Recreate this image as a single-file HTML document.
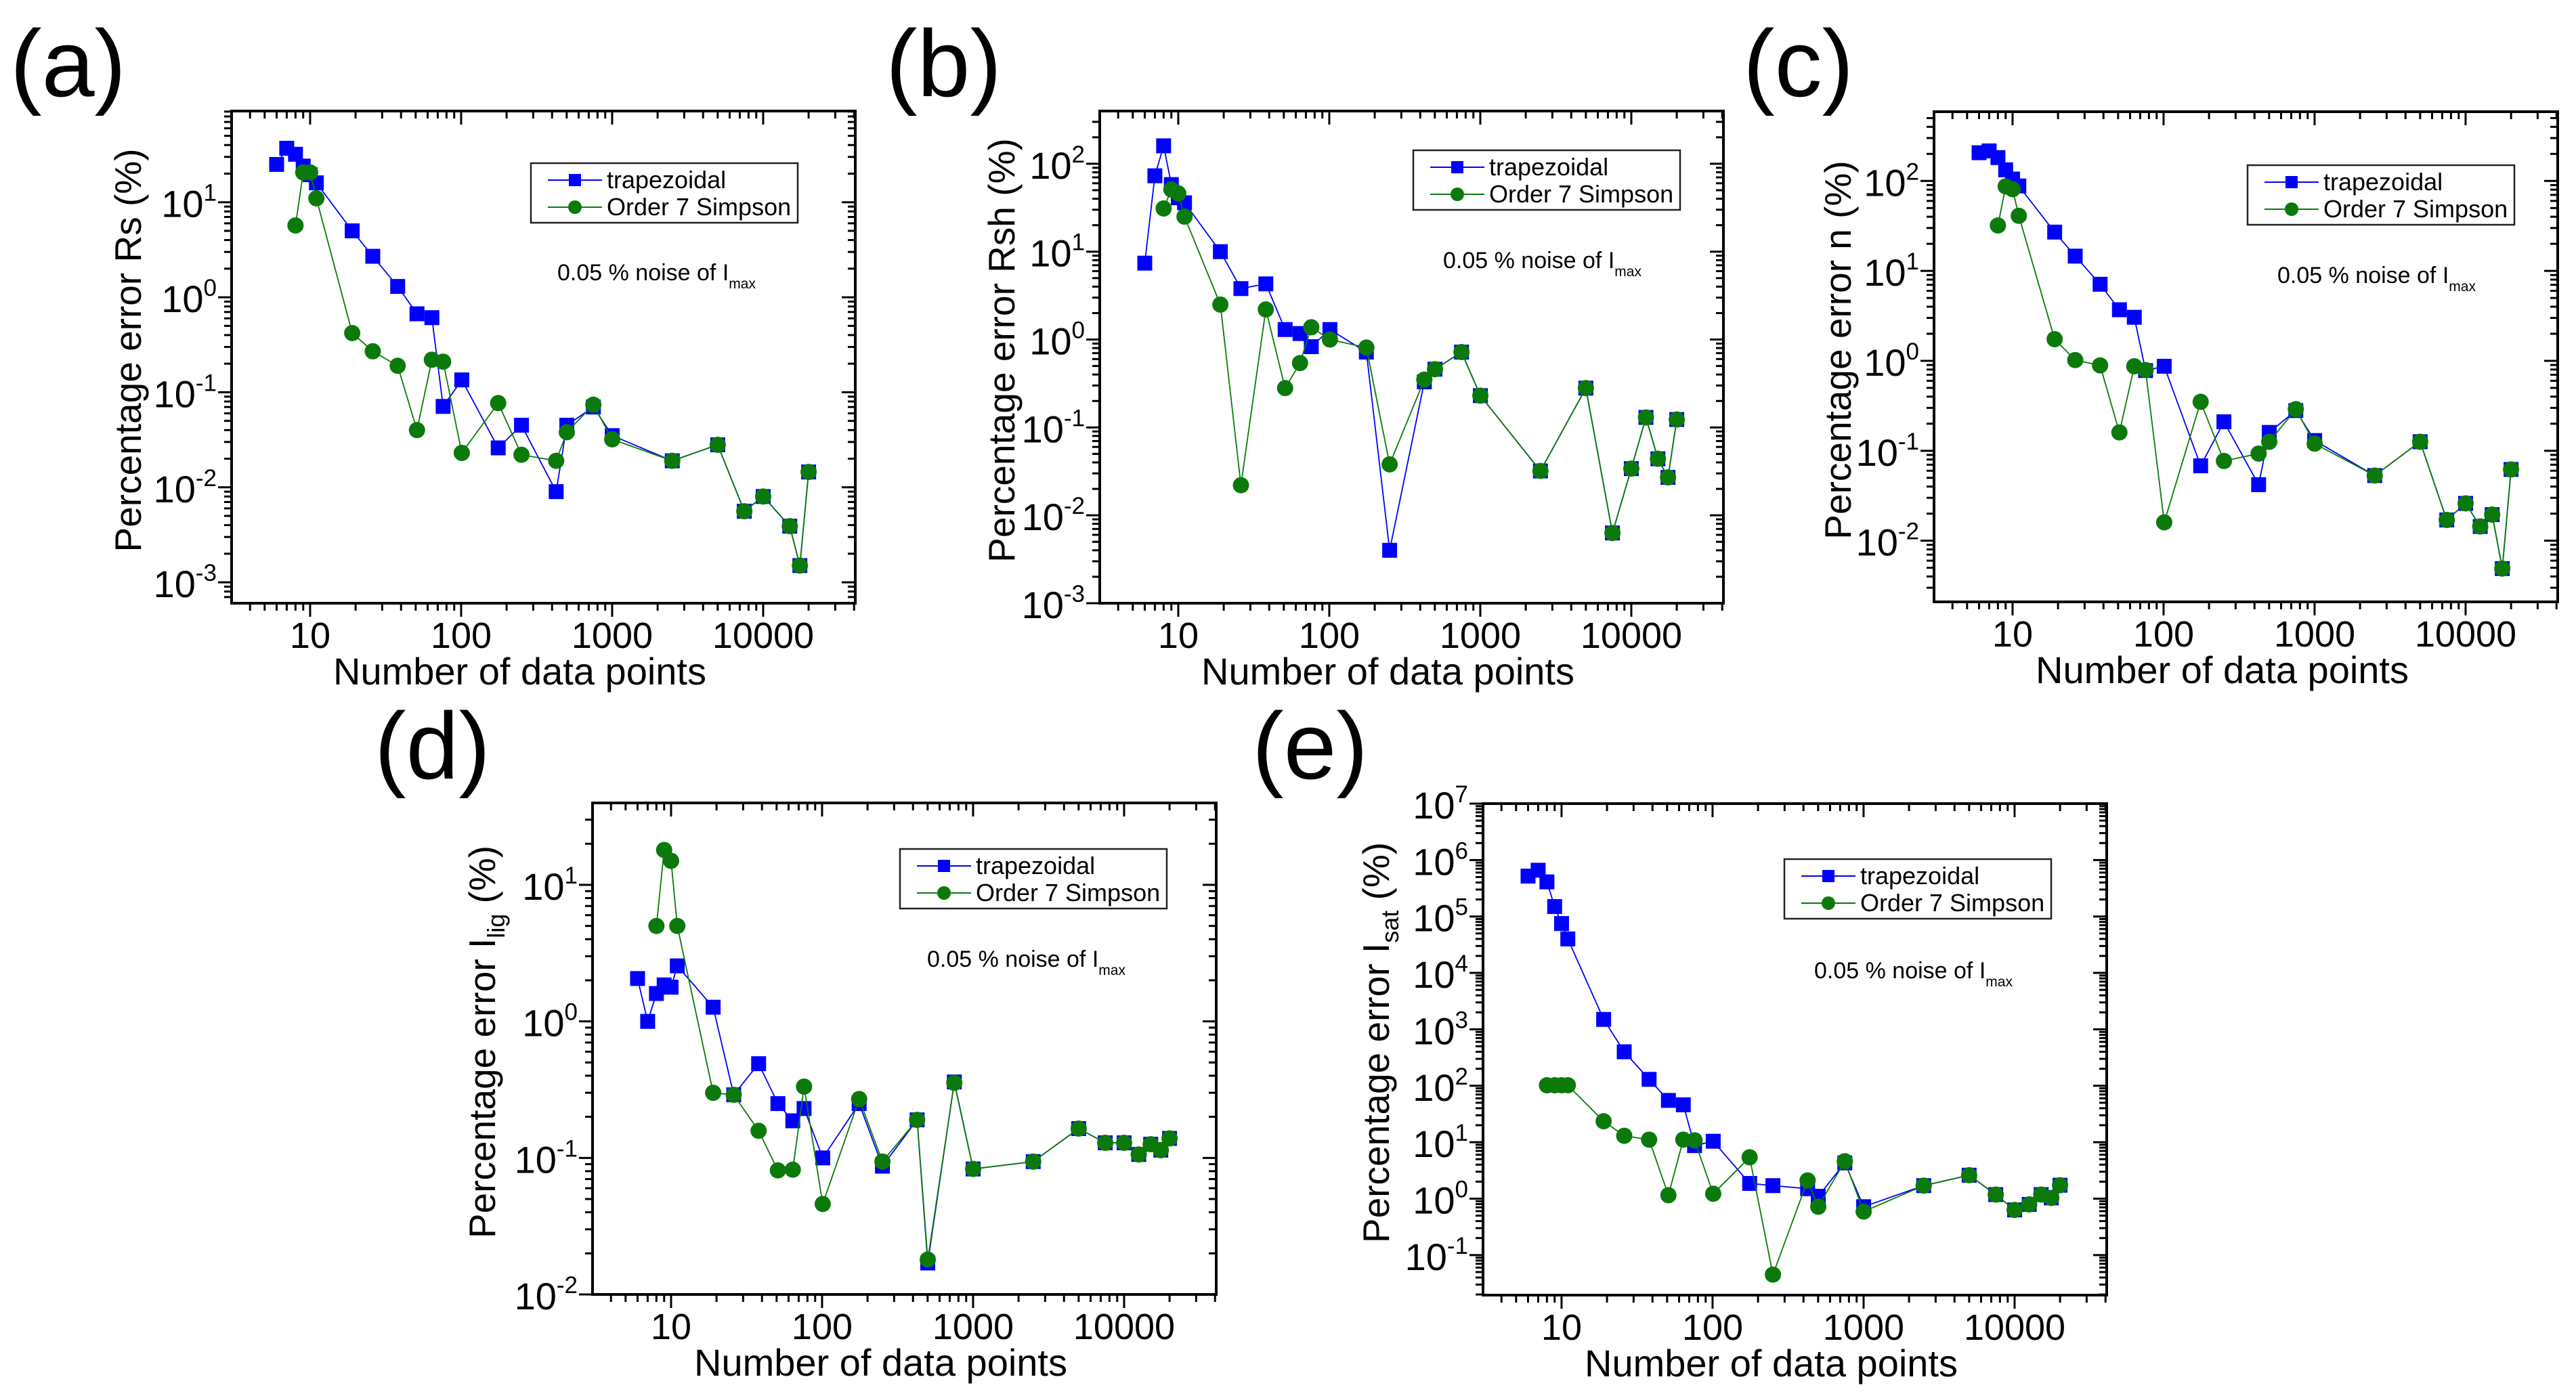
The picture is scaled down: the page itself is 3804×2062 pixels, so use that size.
<!DOCTYPE html>
<html><head><meta charset="utf-8"><style>
html,body{margin:0;padding:0;background:#fff;}
svg{display:block;font-family:"Liberation Sans",Arial,sans-serif;}
</style></head><body>
<svg id="fig" width="3804" height="2062" viewBox="0 0 3804 2062" xmlns="http://www.w3.org/2000/svg">
<rect x="0" y="0" width="3804" height="2062" fill="#ffffff"/>
</svg>
<script>
const N = [6,7,8,9,10,11,19,26,38,51,64,76,101,176,251,426,501,751,1001,2501,5001,7501,10001,12501,15001,17501,20001];
const xTickLabels = ["10","100","1000","10000"];
const xTickValues = [10,100,1000,10000];
const aTrap = [25,37,32,24,19.5,16,5.0,2.7,1.3,0.67,0.61,0.071,0.135,0.026,0.045,0.009,0.045,0.07,0.035,0.019,0.028,0.0056,0.008,null,0.0039,0.0015,0.0145];
const aSimp = [null,null,5.7,20.6,20.6,11,0.42,0.27,0.19,0.04,0.22,0.21,0.023,0.077,0.022,0.019,0.038,0.074,0.032,0.019,0.028,0.0056,0.008,null,0.0039,0.0015,0.0145];
const bTrap = [7.4,73,160,58,41,36,10,3.8,4.3,1.3,1.17,0.83,1.3,0.72,0.004,0.33,0.46,0.72,0.23,0.032,0.28,0.0063,0.034,0.13,0.044,0.027,0.123];
const bSimp = [null,null,31,51,46,25,2.5,0.022,2.2,0.28,0.54,1.38,1.0,0.81,0.038,0.35,0.46,0.72,0.23,0.032,0.28,0.0063,0.034,0.13,0.044,0.027,0.123];
const cTrap = [206,216,182,133,105,88,27,14.6,7.1,3.7,3.05,0.78,0.87,0.068,0.21,0.042,0.16,0.28,0.13,0.053,0.126,0.017,0.026,0.0144,0.0195,0.0049,0.062];
const cSimp = [null,null,32,87,81,41,1.74,1.02,0.89,0.16,0.87,0.79,0.016,0.35,0.077,0.093,0.126,0.29,0.12,0.053,0.126,0.017,0.026,0.0144,0.0195,0.0049,0.062];
const dTrap = [2.06,1.0,1.6,1.85,1.78,2.55,1.27,0.29,0.49,0.25,0.187,0.23,0.1,0.25,0.087,0.19,0.017,0.36,0.083,0.094,0.164,0.129,0.129,0.106,0.126,0.114,0.139];
const dSimp = [null,null,5.0,18,15,5.0,0.30,0.29,0.158,0.081,0.082,0.333,0.046,0.27,0.094,0.19,0.018,0.355,0.083,0.094,0.164,0.129,0.129,0.106,0.126,0.114,0.139];
const eTrap = [5.2e5,6.6e5,4.1e5,1.5e5,7.5e4,4.0e4,1500,400,130,55,46,8.7,10.4,1.86,1.7,1.5,1.1,4.3,0.72,1.7,2.6,1.18,0.63,0.79,1.18,1.03,1.73];
const eSimp = [null,null,102,102,102,102,23.5,13,11.1,1.15,11.1,10.8,1.22,5.4,0.045,2.1,0.72,4.6,0.59,1.7,2.6,1.18,0.63,0.79,1.18,1.03,1.73];
const aYExp = [-3,-2,-1,0,1];
const bYExp = [-3,-2,-1,0,1,2];
const cYExp = [-2,-1,0,1,2];
const dYExp = [-2,-1,0,1];
const eYExp = [-1,0,1,2,3,4,5,6,7];

const NS = "http://www.w3.org/2000/svg";
const svg = document.getElementById('fig');
function mk(tag, attrs, parent){
  const e = document.createElementNS(NS, tag);
  for (const k in attrs) e.setAttribute(k, attrs[k]);
  (parent||svg).appendChild(e);
  return e;
}
const XMIN = 0.48, XMAX = 4.61;

const panels = [
 {id:'a', letter:'(a)', lx:15, ly:142, x0:342, y0:164, x1:1263, y1:891, ymin:-3.22, ymax:1.96, yexp:aYExp, trap:aTrap, simp:aSimp, title:['Percentage error Rs (%)'], tx:-152, leg:[442,77], note:[481,250]},
 {id:'b', letter:'(b)', lx:1308, ly:142, x0:1624, y0:164, x1:2545, y1:891, ymin:-3.0, ymax:2.6, yexp:bYExp, trap:bTrap, simp:bSimp, title:['Percentage error Rsh (%)'], tx:-144, leg:[463,58], note:[507,232]},
 {id:'c', letter:'(c)', lx:2574, ly:142, x0:2856, y0:165, x1:3777, y1:889, ymin:-2.68, ymax:2.77, yexp:cYExp, trap:cTrap, simp:cSimp, title:['Percentage error n (%)'], tx:-141, leg:[463,79], note:[507,253]},
 {id:'d', letter:'(d)', lx:553, ly:1150, x0:875, y0:1186, x1:1796, y1:1912, ymin:-2.0, ymax:1.6, yexp:dYExp, trap:dTrap, simp:dSimp, title:['Percentage error I','lig',' (%)'], tx:-162, leg:[454,68], note:[494,242]},
 {id:'e', letter:'(e)', lx:1849, ly:1150, x0:2190, y0:1187, x1:3111, y1:1913, ymin:-1.71, ymax:7.0, yexp:eYExp, trap:eTrap, simp:eSimp, title:['Percentage error I','sat',' (%)'], tx:-157, leg:[445,82], note:[489,258]}
];

panels.forEach(p => {
  const g = mk('g', {});
  
  
  const X = v => p.x0 + (Math.log10(v) - XMIN) / (XMAX - XMIN) * (p.x1 - p.x0);
  const Y = v => p.y1 - (Math.log10(v) - p.ymin) / (p.ymax - p.ymin) * (p.y1 - p.y0);

  const lt = mk('text', {x:p.lx, y:p.ly, 'font-size':140, fill:'#000'}, g);
  lt.textContent = p.letter;
  
  

  const tk = mk('g', {stroke:'#000','stroke-width':3}, g);
  
  
  for (let e = 0; e <= 4; e++) {
    for (let m = 1; m <= 9; m++) {
      const v = m * Math.pow(10, e);
      const lv = Math.log10(v);
      if (lv < XMIN || lv > XMAX) continue;
      const x = X(v); const L = m === 1 ? 20 : 11;
      mk('line', {x1:x, y1:p.y1, x2:x, y2:p.y1 + L}, tk);
      mk('line', {x1:x, y1:p.y0, x2:x, y2:p.y0 + L}, tk);
    }
  }
  for (let e = Math.floor(p.ymin); e <= Math.ceil(p.ymax); e++) {
    for (let m = 1; m <= 9; m++) {
      const v = m * Math.pow(10, e);
      const lv = Math.log10(v);
      if (lv < p.ymin - 1e-6 || lv > p.ymax + 1e-6) continue;
      const y = Y(v); const L = m === 1 ? 20 : 11;
      mk('line', {x1:p.x0, y1:y, x2:p.x0 - L, y2:y}, tk);
      mk('line', {x1:p.x1, y1:y, x2:p.x1 - L, y2:y}, tk);
    }
  }
  const fr = mk('rect', {x:p.x0, y:p.y0, width:p.x1 - p.x0, height:p.y1 - p.y0, fill:'none', stroke:'#000', 'stroke-width':4}, g);
  
  

  xTickValues.forEach((v, i) => {
    const t = mk('text', {x:X(v), y:p.y1 + 66, 'font-size':54, 'text-anchor':'middle', fill:'#000'}, g);
    t.textContent = xTickLabels[i];
    
    
  });
  p.yexp.forEach(e => {
    const t = mk('text', {x:p.x0 - 22, y:Y(Math.pow(10, e)) + 22, 'font-size':56, 'text-anchor':'end', fill:'#000'}, g);
    const s1 = mk('tspan', {}, t); s1.textContent = '10';
    const s2 = mk('tspan', {'font-size':35, dy:-24}, t); s2.textContent = String(e);
    
    
  });
  const xt = mk('text', {x:(p.x0 + p.x1) / 2 - 35, y:p.y1 + 120, 'font-size':56, 'text-anchor':'middle', fill:'#000'}, g);
  xt.textContent = 'Number of data points';
  
  
  const cx = p.x0 + p.tx, cy = (p.y0 + p.y1) / 2 - 10;
  const yt = mk('text', {x:cx, y:cy, 'font-size':55, 'text-anchor':'middle', fill:'#000', transform:'rotate(-90 ' + cx + ' ' + cy + ')', dy:18}, g);
  const u0 = mk('tspan', {}, yt); u0.textContent = p.title[0];
  if (p.title.length > 1) {
    const u1 = mk('tspan', {'font-size':36, dy:14}, yt); u1.textContent = p.title[1];
    const u2 = mk('tspan', {dy:-14}, yt); u2.textContent = p.title[2];
  }
  
  

  function series(vals, color, shape, name) {
    const sg = mk('g', {}, g);
    
    
    const pts = [];
    vals.forEach((v, i) => { if (v !== null) pts.push([X(N[i]), Y(v)]); });
    mk('polyline', {points:pts.map(q => q.join(',')).join(' '), fill:'none', stroke:color, 'stroke-width':1.8}, sg);
    pts.forEach(q => {
      let m;
      if (shape === 'sq') m = mk('rect', {x:q[0] - 11, y:q[1] - 11, width:22, height:22, fill:color}, sg);
      else m = mk('circle', {cx:q[0], cy:q[1], r:12, fill:color}, sg);
      
      
    });
  }
  series(p.trap, '#0000ff', 'sq', 'series-trapezoidal-' + p.id);
  series(p.simp, '#0b7a0b', 'ci', 'series-simpson-' + p.id);

  const lg = mk('g', {}, g);
  
  
  const bx = p.x0 + p.leg[0], by = p.y0 + p.leg[1];
  mk('rect', {x:bx, y:by, width:394, height:88, fill:'#fff', stroke:'#222', 'stroke-width':2.5}, lg);
  const rows = [['trapezoidal', '#0000ff', 'sq'], ['Order 7 Simpson', '#0b7a0b', 'ci']];
  rows.forEach((r, k) => {
    const ry = by + 25 + k * 40;
    const le = mk('g', {}, lg);
    
    
    mk('line', {x1:bx + 25, y1:ry, x2:bx + 105, y2:ry, stroke:r[1], 'stroke-width':2}, le);
    if (r[2] === 'sq') mk('rect', {x:bx + 56, y:ry - 9, width:18, height:18, fill:r[1]}, le);
    else mk('circle', {cx:bx + 65, cy:ry, r:10, fill:r[1]}, le);
    const t = mk('text', {x:bx + 112, y:ry + 12, 'font-size':36, fill:'#000'}, le);
    t.textContent = r[0];
  });
  const nt = mk('text', {x:p.x0 + p.note[0], y:p.y0 + p.note[1], 'font-size':34, fill:'#000'}, g);
  const n1 = mk('tspan', {}, nt); n1.textContent = '0.05 % noise of I';
  const n2 = mk('tspan', {'font-size':21, dy:12}, nt); n2.textContent = 'max';
  
  
});
</script>
</body></html>
